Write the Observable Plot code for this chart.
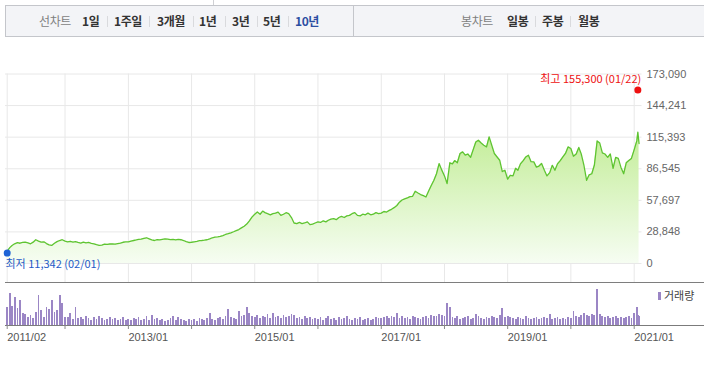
<!DOCTYPE html>
<html><head><meta charset="utf-8">
<script src="https://cdn.jsdelivr.net/npm/d3@7"></script>
<script src="https://cdn.jsdelivr.net/npm/@observablehq/plot@0.6"></script>
<style>
body{margin:0;background:#fff;width:704px;height:365px;overflow:hidden;position:relative;font-family:"Noto Sans CJK KR","Liberation Sans",sans-serif;}
.a{position:absolute;}
#bar{left:5px;top:5px;width:699px;height:30px;border-top:1px solid #c4c6cb;border-bottom:1px solid #c4c6cb;border-left:1px solid #c4c6cb;background:#f3f4f7;}
.t{position:absolute;top:15px;line-height:12px;font-size:12px;white-space:nowrap;letter-spacing:-0.4px;}
.g{color:#7f7f7f;}
.b{color:#333;font-weight:bold;}
.bl{color:#2c4ea2;font-weight:bold;}
.s{position:absolute;top:16px;width:1px;height:11px;background:#d9dadd;}
</style></head>
<body>
<div class="a" style="left:213px;top:0;width:1px;height:5px;background:#cfd0d4"></div>
<div id="bar" class="a"></div>
<div class="a" style="left:353px;top:5px;width:1px;height:31px;background:#c4c6cb"></div>
<div id="barText"></div>
<div id="price" class="a" style="left:0;top:40px"></div>
<div class="a" style="left:5px;top:282px;width:699px;height:1px;background:#7e7e7e"></div>
<div id="vol" class="a" style="left:0;top:283px"></div>
<div class="a" style="left:658px;top:292px;width:3px;height:8px;background:#9b86c5"></div>
<div class="a" style="left:664px;top:289px;font-size:11px;line-height:12px;color:#444">거래량</div>
<script>
// ---- top menu ----
const menuLeft = [["선차트","g",39],["1일","b",82],["1주일","b",114],["3개월","b",157],["1년","b",199],["3년","b",232],["5년","b",263],["10년","bl",295]];
const menuRight = [["봉차트","g",461],["일봉","b",507],["주봉","b",542],["월봉","b",578]];
const menuSeps = [107,149,193,225,257,288,535,570];

// ---- price data (thousand won, semi-monthly closes) ----
const halfMonths = ["01-01","01-16","02-01","02-16","03-01","03-16","04-01","04-16","05-01","05-16","06-01","06-16",
  "07-01","07-16","08-01","08-16","09-01","09-16","10-01","10-16","11-01","11-16","12-01","12-16"];
const years = [2011,2012,2013,2014,2015,2016,2017,2018,2019,2020];
const price2011 = [11.342,14.5,16.5,18,19,18.5,19.2,19.5,18.8,18,19.5,21.7,20.5,19.5,19.8,18.2,17,16.5,18.5,20,21,21.7];
const price2012 = [20.5,19.8,20.3,19.6,20,19.2,18.6,19.5,18.8,19.2,18.4,18,17.2,16.5,16.8,17.6,17.4,17.8,18,17.6,18.2,18.6,19.4,19.8];
const price2013 = [19.8,20.5,21,21.5,22,22.3,23,23.5,22.5,21.5,21,21.8,21.5,22,22.5,22.3,21.8,22,21.5,22,21.7,21,20,19.2];
const price2014 = [19.4,19.8,20.2,20.8,21,21.3,21.7,22.5,23.5,24,24.3,24.7,25.5,26.5,27.2,28,29,30,31,32.5,34,36,39,42.4];
const price2015 = [45,47,45,47.9,46.5,45.5,44.5,45.5,46,47,44,45,46.4,45.5,42,37,36.5,37.5,36.4,37,38,35.5,36,37];
const price2016 = [38,37.5,39,38,39.5,40.5,41,40,42,43,42,43.5,44,45.5,46.5,44,43.5,45,44.5,46,44.5,45,46.5,45.5];
const price2017 = [46,47.5,47,48.5,49.5,51,53,56,58,59,60,61,61.4,66,64.4,63,62,60.7,66,71,76,82,91.3,85.5];
const price2018 = [80,73,92,91,94,92,100.5,102,99,100,97,104,111,112.6,110,108,106.5,115.7,108,100.5,97.3,94.3,84,85.2];
const price2019 = [77,80.6,80,87,85.2,91,94,97.3,98.9,93,92.8,88,89,91.3,85.2,80,83,89.7,85.2,91,94,97.3,100.5,106.5];
const price2020 = [105,98,100,106,100,90,76,81,82,90,112,110,101,100,97,100,87,97,96,88,82,92,94,96];
const days2021 = ["2021-01-01","2021-01-16","2021-01-22","2021-01-29"];
const price2021 = [104,112,120,109.6];

// ---- volume (relative units) ----
const vol2011 = [18,32,19,28,17,25,12,11,8,10,7,13,30,15,8,18,16,25,13,15,30,22];
const vol2012 = [8,8,12,6,18,7,8,6,9,7,5,8,6,9,7,5,6,8,6,7,5,6,8,5];
const vol2013 = [6,5,7,6,8,5,6,9,5,10,6,7,5,6,4,5,7,9,5,8,6,5,4,6];
const vol2014 = [5,6,4,7,6,5,7,12,6,5,7,8,6,9,16,8,7,6,14,9,10,18,12,9];
const vol2015 = [8,10,7,9,8,11,7,12,8,9,7,10,8,9,11,10,7,8,6,9,7,8,6,7];
const vol2016 = [6,8,5,7,9,6,7,5,8,6,7,9,6,5,7,6,8,5,6,7,5,6,8,7];
const vol2017 = [7,8,9,7,9,8,12,7,9,7,8,6,9,8,7,6,8,9,7,10,9,9,11,10];
const vol2018 = [9,22,18,8,7,9,6,7,8,9,6,7,11,9,7,6,8,7,9,8,7,10,17,8];
const vol2019 = [9,8,7,6,8,7,6,9,7,6,7,8,6,7,8,7,11,6,7,8,6,7,6,8];
const vol2020 = [7,14,9,8,10,12,10,9,11,10,36,11,9,8,9,7,8,9,7,8,7,8,9,7];
const vol2021 = [12,18,10,9];

// ---- axes ----
const yTicks = [0,28848,57697,86545,115393,144241,173090];
const xTickDates = ["2011-02-01","2012-01-01","2013-01-01","2014-01-01","2015-01-01","2016-01-01","2017-01-01","2018-01-01","2019-01-01","2020-01-01","2021-01-01"];
const xTickLabels = ["2011/02","","2013/01","","2015/01","","2017/01","","2019/01","","2021/01"];
const xDomain = ["2011-02-01","2021-02-15"];
const highPoint = {date:"2021-01-22", value:155300, label:"최고 155,300 (01/22)"};
const lowPoint = {date:"2011-02-01", value:11342, label:"최저 11,342 (02/01)"};

// ---- build tables ----
function buildTable(perYear, last){
  const rows = [];
  perYear.forEach((arr,k)=>{
    const start = 24 - arr.length;
    arr.forEach((v,j)=>rows.push({date:new Date(`${years[k]}-${halfMonths[start+j]}`), v}));
  });
  last.forEach((v,j)=>rows.push({date:new Date(days2021[j]), v}));
  return rows;
}
const prices = buildTable([price2011,price2012,price2013,price2014,price2015,price2016,price2017,price2018,price2019,price2020], price2021)
  .map(d=>({date:d.date, v:d.v*1000}));
const vols = buildTable([vol2011,vol2012,vol2013,vol2014,vol2015,vol2016,vol2017,vol2018,vol2019,vol2020], vol2021);
const gridDates = xTickDates.map(d=>new Date(d));
const labelMap = new Map(gridDates.map((d,i)=>[+d, xTickLabels[i]]));
const xd = xDomain.map(d=>new Date(d));
const hi = [{...highPoint, date:new Date(highPoint.date)}];
const lo = [{...lowPoint, date:new Date(lowPoint.date)}];

// menu
const bt = document.getElementById("barText");
[...menuLeft,...menuRight].forEach(([txt,cls,x])=>{
  const s=document.createElement("span"); s.className="t "+cls; s.style.left=x+"px"; s.textContent=txt; bt.appendChild(s);
});
menuSeps.forEach(x=>{const d=document.createElement("div"); d.className="s"; d.style.left=x+"px"; bt.appendChild(d);});

const num = "'Liberation Sans', Arial, sans-serif";
const kor = "'Noto Sans CJK KR', sans-serif";

const priceSvg = Plot.plot({
  width:704, height:242,
  marginLeft:6.7, marginRight:62.5, marginTop:33.5, marginBottom:19,
  x:{type:"utc", domain:xd, axis:null},
  y:{domain:[0,173090], axis:null},
  style:{background:"transparent", overflow:"visible", fontFamily:num, fontSize:"11px"},
  marks:[
    Plot.ruleY(yTicks,{stroke:"#e8e8e8", insetLeft:-1.7}),
    Plot.ruleX(gridDates,{stroke:"#e8e8e8", insetBottom:-19}),
    Plot.areaY(prices,{x:"date", y:"v", fill:"url(#pg)"}),
    Plot.lineY(prices,{x:"date", y:"v", stroke:"#5ec431", strokeWidth:1.3}),
    Plot.axisY(yTicks,{anchor:"right", tickSize:0, tickPadding:4.5, tickFormat:d3.format(","), fill:"#666", fontSize:11, fontFamily:num}),
    Plot.dot(hi,{x:"date", y:"value", r:3.5, fill:"#ee1111", stroke:"none", dy:-3.6}),
    Plot.text(hi,{x:"date", y:"value", text:"label", textAnchor:"end", dx:3.4, dy:-14, fill:"#ee1111", fontSize:11, fontFamily:kor}),
    Plot.dot(lo,{x:"date", y:"value", r:3.5, fill:"#1f63d6", stroke:"none", dy:2}),
    Plot.text(lo,{x:"date", y:"value", text:"label", textAnchor:"start", dx:-1.7, dy:13.4, fill:"#1f5bc6", fontSize:11, fontFamily:kor})
  ]
});
d3.select(priceSvg).insert("defs",":first-child").html(
  '<linearGradient id="pg" x1="0" y1="0" x2="0" y2="1"><stop offset="0" stop-color="#c3ed98"/><stop offset="1" stop-color="#f6fdf2"/></linearGradient>');
document.getElementById("price").appendChild(priceSvg);

const volSvg = Plot.plot({
  width:704, height:82,
  marginLeft:6.7, marginRight:62.5, marginTop:2, marginBottom:40,
  x:{type:"utc", domain:xd, axis:null},
  y:{domain:[0,40], axis:null},
  style:{background:"transparent", overflow:"visible", fontFamily:num, fontSize:"11px"},
  marks:[
    Plot.ruleX(vols,{x:"date", y1:0, y2:"v", stroke:"#9b86c5", strokeWidth:1.8, shapeRendering:"crispEdges"}),
    Plot.ruleY([0],{stroke:"#7b7b7b", insetLeft:-1.7, insetRight:-62.5}),
    Plot.axisX(gridDates,{anchor:"bottom", tickSize:4, tickPadding:4, stroke:"#8a8a8a",
      tickFormat:d=>labelMap.get(+d) ?? "", textAnchor:"start", fill:"#555", fontSize:11, fontFamily:num})
  ]
});
document.getElementById("vol").appendChild(volSvg);
</script>
</body></html>
